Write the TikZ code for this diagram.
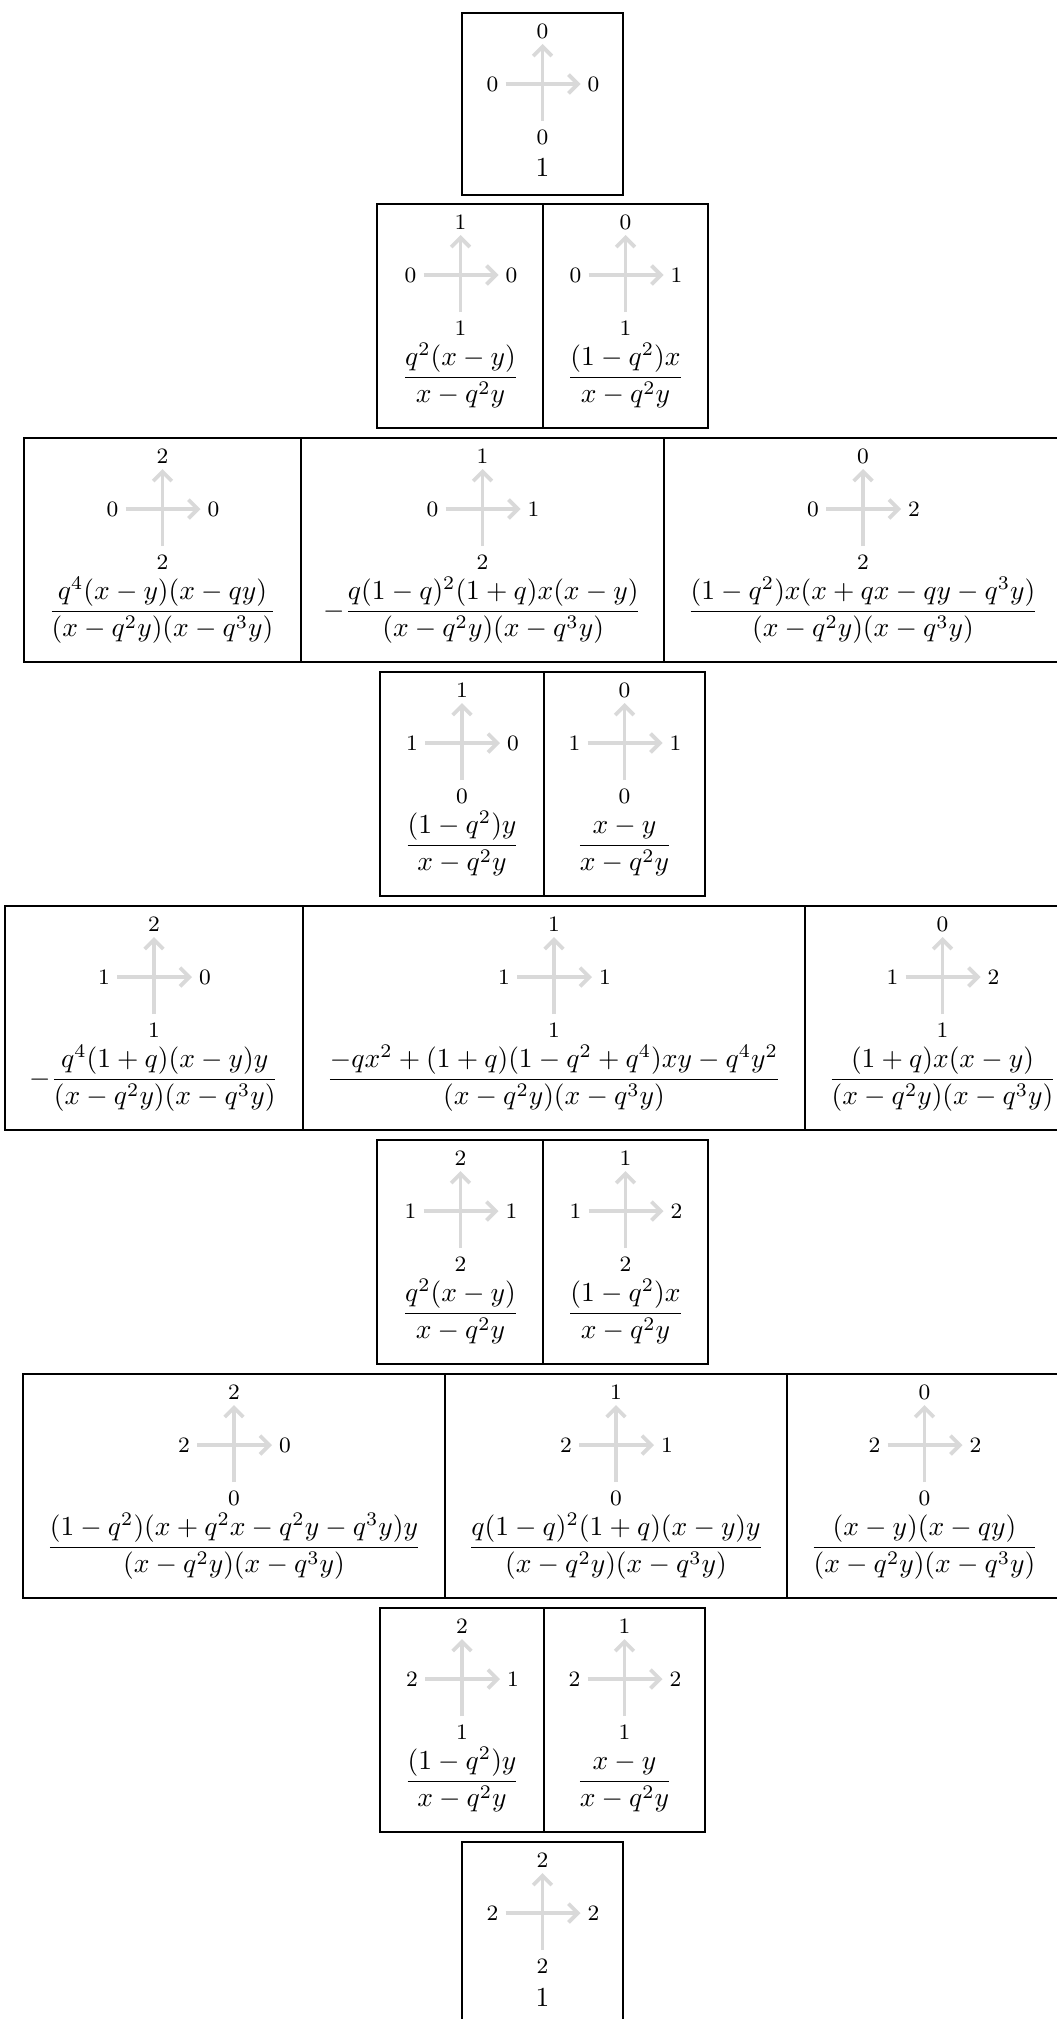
\documentclass[tikz,border=0pt]{standalone}
\usetikzlibrary{arrows.meta}
\newcommand\mycell[9]{% name, cx, T, top, left, right, bottom, formula baseline offset, formula
  \coordinate (#1w) at ({#2-37},{#3+71});
  \coordinate (#1e) at ({#2+38},{#3+71});
  \coordinate (#1s) at ({#2},{#3+108});
  \coordinate (#1n) at ({#2},{#3+31});
  \draw[arr] (#1s) -- (#1n);
  \draw[arr] (#1w) -- (#1e);
  \node[lab] (#1t) at ({#2},{#3+18}) {#4};
  \node[lab] (#1l) at ({#2-50},{#3+71}) {#5};
  \node[lab] (#1r) at ({#2+51},{#3+71}) {#6};
  \node[lab] (#1b) at ({#2},{#3+124}) {#7};
  \node[frm] (#1f) at ({#2},{#3+#8}) {$\displaystyle #9$};
}
\begin{document}
\begin{tikzpicture}[x=0.363636pt,y=-0.363636pt,
  arr/.style={draw=black!15, line width=1.4pt, -{Straight Barb[length=3.4pt,width=6.8pt]}},
  lab/.style={font=\footnotesize, inner sep=0pt, anchor=center},
  frm/.style={inner sep=0pt, anchor=base},
  thickln/.style={draw=black, line width=0.85pt},
  thinln/.style={draw=black, line width=0.45pt}]
\path[use as bounding box] (0,0) rectangle (1057,2019);
\clip (0,0) rectangle (1057,2019);

% row 1
\mycell{a}{542.5}{13}{0}{0}{0}{0}{164}{1}
\draw[thickln] (462,13) rectangle (623,195);

% row 2
\mycell{ba}{460.5}{204}{1}{0}{0}{1}{180}{\frac{q^2(x-y)}{x-q^2y}}
\mycell{bb}{625.5}{204}{0}{0}{1}{1}{180}{\frac{(1-q^2)x}{x-q^2y}}
\draw[thickln] (377,204) rectangle (708,428);
\draw[thickln] (543,204) -- (543,428);

% row 3
\mycell{ca}{162.5}{438}{2}{0}{0}{2}{180}{\frac{q^4(x-y)(x-qy)}{(x-q^2y)(x-q^3y)}}
\mycell{cb}{482.5}{438}{1}{0}{1}{2}{180}{-\frac{q(1-q)^2(1+q)x(x-y)}{(x-q^2y)(x-q^3y)}}
\mycell{cc}{863}{438}{0}{0}{2}{2}{180}{\frac{(1-q^2)x(x+qx-qy-q^3y)}{(x-q^2y)(x-q^3y)}}
\draw[thickln] (24,438) rectangle (1062,662);
\draw[thinln] (301,438) -- (301,662);
\draw[thinln] (664,438) -- (664,662);

% row 4
\mycell{da}{462}{672}{1}{1}{0}{0}{180}{\frac{(1-q^2)y}{x-q^2y}}
\mycell{db}{624.5}{672}{0}{1}{1}{0}{180}{\frac{x-y}{x-q^2y}}
\draw[thickln] (380,672) rectangle (705,896);
\draw[thinln] (544,672) -- (544,896);

% row 5
\mycell{ea}{154}{906}{2}{1}{0}{1}{180}{-\frac{q^4(1+q)(x-y)y}{(x-q^2y)(x-q^3y)}}
\mycell{eb}{554}{906}{1}{1}{1}{1}{180}{\frac{-qx^2+(1+q)(1-q^2+q^4)xy-q^4y^2}{(x-q^2y)(x-q^3y)}}
\mycell{ec}{942.5}{906}{0}{1}{2}{1}{180}{\frac{(1+q)x(x-y)}{(x-q^2y)(x-q^3y)}}
\draw[thickln] (5,906) rectangle (1080,1130);
\draw[thinln] (303,906) -- (303,1130);
\draw[thinln] (805,906) -- (805,1130);

% row 6
\mycell{fa}{460.5}{1140}{2}{1}{1}{2}{180}{\frac{q^2(x-y)}{x-q^2y}}
\mycell{fb}{625.5}{1140}{1}{1}{2}{2}{180}{\frac{(1-q^2)x}{x-q^2y}}
\draw[thickln] (377,1140) rectangle (708,1364);
\draw[thickln] (543,1140) -- (543,1364);

% row 7
\mycell{ga}{234}{1374}{2}{2}{0}{0}{180}{\frac{(1-q^2)(x+q^2x-q^2y-q^3y)y}{(x-q^2y)(x-q^3y)}}
\mycell{gb}{616}{1374}{1}{2}{1}{0}{180}{\frac{q(1-q)^2(1+q)(x-y)y}{(x-q^2y)(x-q^3y)}}
\mycell{gc}{924.5}{1374}{0}{2}{2}{0}{180}{\frac{(x-y)(x-qy)}{(x-q^2y)(x-q^3y)}}
\draw[thickln] (23,1374) rectangle (1062,1598);
\draw[thinln] (445,1374) -- (445,1598);
\draw[thinln] (787,1374) -- (787,1598);

% row 8
\mycell{ha}{462}{1608}{2}{2}{1}{1}{180}{\frac{(1-q^2)y}{x-q^2y}}
\mycell{hb}{624.5}{1608}{1}{2}{2}{1}{180}{\frac{x-y}{x-q^2y}}
\draw[thickln] (380,1608) rectangle (705,1832);
\draw[thinln] (544,1608) -- (544,1832);

% row 9
\mycell{i}{542.5}{1842}{2}{2}{2}{2}{164}{1}
\draw[thickln] (462,1842) rectangle (623,2024);
\end{tikzpicture}
\end{document}
